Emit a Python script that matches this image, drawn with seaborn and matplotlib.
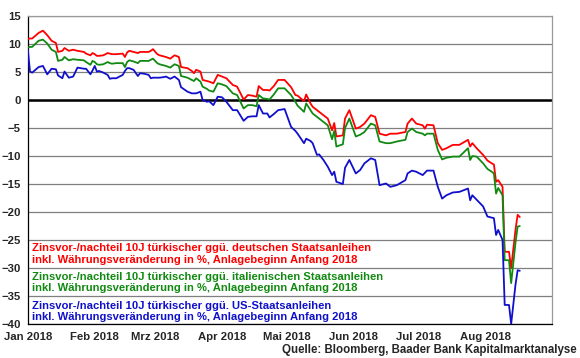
import seaborn as sns
import pandas as pd
import matplotlib.pyplot as plt

dates = [
    "2018-01-01", "2018-01-02", "2018-01-03", "2018-01-06", "2018-01-08", "2018-01-10",
    "2018-01-12", "2018-01-14", "2018-01-15", "2018-01-17", "2018-01-18", "2018-01-20",
    "2018-01-22", "2018-01-24", "2018-01-27", "2018-01-28", "2018-01-30", "2018-01-31",
    "2018-02-01", "2018-02-02", "2018-02-03", "2018-02-05", "2018-02-07", "2018-02-08",
    "2018-02-09", "2018-02-11", "2018-02-14", "2018-02-15", "2018-02-16", "2018-02-17",
    "2018-02-19", "2018-02-21", "2018-02-22", "2018-02-24", "2018-02-26", "2018-02-27",
    "2018-02-28", "2018-03-02", "2018-03-03", "2018-03-05", "2018-03-06", "2018-03-08",
    "2018-03-10", "2018-03-12", "2018-03-13", "2018-03-16", "2018-03-18", "2018-03-19",
    "2018-03-20", "2018-03-22", "2018-03-23", "2018-03-25", "2018-03-26", "2018-03-28",
    "2018-03-30", "2018-04-01", "2018-04-03", "2018-04-06", "2018-04-08", "2018-04-11",
    "2018-04-13", "2018-04-15", "2018-04-17", "2018-04-18", "2018-04-20", "2018-04-22",
    "2018-04-23", "2018-04-25", "2018-04-27", "2018-04-30", "2018-05-03", "2018-05-05",
    "2018-05-06", "2018-05-09", "2018-05-10", "2018-05-12", "2018-05-13", "2018-05-15",
    "2018-05-16", "2018-05-18", "2018-05-20", "2018-05-22", "2018-05-23", "2018-05-24",
    "2018-05-27", "2018-05-28", "2018-05-30", "2018-06-02", "2018-06-04", "2018-06-06",
    "2018-06-09", "2018-06-11", "2018-06-13", "2018-06-16", "2018-06-18", "2018-06-21",
    "2018-06-25", "2018-06-26", "2018-06-28", "2018-06-30", "2018-07-03", "2018-07-04",
    "2018-07-05", "2018-07-08", "2018-07-10", "2018-07-12", "2018-07-14", "2018-07-17",
    "2018-07-20", "2018-07-24", "2018-07-25", "2018-07-26", "2018-07-28", "2018-07-31",
    "2018-08-02", "2018-08-04", "2018-08-05", "2018-08-06", "2018-08-07", "2018-08-09",
    "2018-08-10", "2018-08-12", "2018-08-13", "2018-08-15", "2018-08-16", "2018-08-17",
]

# vs. German Bunds
de = [
    10.9, 11.0, 11.0, 12.0, 12.4, 11.6, 10.6, 10.2, 8.6, 8.8, 9.3, 8.8,
    9.0, 8.8, 8.6, 8.3, 8.0, 8.4, 8.2, 7.9, 7.9, 8.0, 8.4, 8.3,
    8.2, 8.2, 8.3, 7.7, 8.5, 8.8, 8.6, 8.4, 8.6, 8.6, 8.6, 8.8,
    9.1, 8.2, 8.0, 7.8, 7.7, 7.4, 8.0, 7.7, 5.9, 5.7, 5.2, 4.8,
    5.4, 5.1, 3.6, 3.4, 3.3, 3.0, 4.5, 4.2, 3.9, 2.7, 2.4, 0.1,
    0.9, 0.8, 0.6, 2.5, 1.8, 1.8, 1.7, 2.5, 3.6, 3.6, 2.3, 0.9,
    0.8, -0.2, 1.0, -0.6, -1.2, -1.8, -2.1, -2.7, -3.3, -5.4, -4.1, -6.5,
    -6.3, -3.3, -1.8, -5.1, -4.8, -4.2, -2.7, -3.0, -6.0, -6.3, -6.0, -6.0,
    -5.7, -4.2, -3.3, -4.2, -4.5, -5.1, -4.4, -4.5, -7.7, -8.9, -8.6, -8.0,
    -8.0, -7.1, -8.3, -7.7, -8.6, -9.8, -10.8, -11.3, -11.5, -14.6, -14.3, -15.5,
    -27.1, -27.1, -30.0, -23.2, -20.5, -20.9,
]

# vs. Italian BTPs
it = [
    9.4, 9.5, 9.5, 10.6, 10.8, 10.1, 9.0, 8.6, 7.0, 7.2, 7.7, 7.1,
    7.3, 7.2, 7.1, 6.8, 6.3, 7.0, 6.8, 6.4, 6.3, 6.4, 6.8, 6.6,
    6.5, 6.6, 6.6, 5.9, 6.8, 7.1, 6.9, 6.6, 7.0, 7.0, 7.0, 7.2,
    7.4, 6.6, 6.4, 6.2, 6.1, 5.8, 6.4, 6.1, 4.3, 4.0, 3.6, 3.4,
    3.9, 3.3, 2.4, 2.0, 1.7, 1.5, 3.0, 2.8, 2.5, 1.2, 0.9, -1.5,
    -0.9, -0.9, -1.1, 0.9, 0.3, 0.2, 0.1, 1.0, 2.1, 2.1, 0.9, -0.3,
    -1.0, -2.1, -0.6, -1.8, -2.4, -3.0, -3.3, -3.9, -4.5, -7.0, -5.5, -8.3,
    -7.9, -5.0, -3.3, -6.5, -6.2, -5.7, -4.2, -4.5, -7.4, -7.7, -7.7, -7.4,
    -7.1, -5.7, -5.1, -5.7, -6.0, -6.3, -6.0, -6.0, -8.9, -10.6, -10.3, -10.1,
    -10.1, -8.6, -10.7, -10.0, -10.1, -11.3, -12.3, -12.8, -13.1, -16.7, -15.7, -17.0,
    -28.6, -28.6, -32.7, -25.5, -22.6, -22.5,
]

# vs. US Treasuries
us = [
    9.0, 5.1, 4.9, 5.9, 6.1, 4.6, 5.6, 5.5, 4.4, 3.9, 5.1, 4.0,
    4.2, 5.8, 5.6, 5.6, 4.6, 5.3, 6.1, 5.1, 5.2, 4.9, 4.5, 3.8,
    3.9, 3.9, 4.5, 5.2, 5.7, 5.7, 5.4, 4.3, 4.8, 4.7, 4.5, 3.9,
    4.0, 4.0, 4.0, 4.1, 4.2, 3.8, 4.2, 3.6, 2.3, 1.5, 1.2, 1.2,
    1.2, 1.5, 0.0, -0.3, -0.2, -0.9, 0.6, 0.5, -0.3, -1.8, -1.8, -3.7,
    -3.0, -2.9, -2.9, -0.9, -2.4, -2.4, -3.1, -2.5, -1.8, -1.6, -4.8, -5.5,
    -6.0, -7.7, -6.9, -7.3, -7.7, -9.8, -9.7, -10.7, -11.9, -13.4, -12.8, -14.6,
    -15.0, -12.1, -10.7, -13.1, -12.5, -11.3, -10.4, -10.7, -15.2, -14.9, -15.5, -15.2,
    -14.3, -13.1, -12.6, -12.8, -13.4, -13.0, -12.6, -12.6, -15.5, -17.6, -17.0, -16.5,
    -16.4, -15.8, -17.9, -17.0, -17.8, -19.0, -20.8, -21.0, -21.1, -24.1, -23.2, -25.0,
    -36.6, -36.6, -40.0, -33.0, -30.4, -30.5,
]

labels = [
    "Zinsvor-/nachteil 10J türkischer ggü. deutschen Staatsanleihen\ninkl. Währungsveränderung in %, Anlagebeginn Anfang 2018",
    "Zinsvor-/nachteil 10J türkischer ggü. italienischen Staatsanleihen\ninkl. Währungsveränderung in %, Anlagebeginn Anfang 2018",
    "Zinsvor-/nachteil 10J türkischer ggü. US-Staatsanleihen\ninkl. Währungsveränderung in %, Anlagebeginn Anfang 2018",
]
colors = ["#ff0000", "#118a11", "#1010cc"]

month_ticks = ["2018-01-01", "2018-02-01", "2018-03-01", "2018-04-01", "2018-05-01",
               "2018-06-01", "2018-07-01", "2018-08-01", "2018-09-01"]
month_labels = ["Jan 2018", "Feb 2018", "Mrz 2018", "Apr 2018", "Mai 2018",
                "Jun 2018", "Jul 2018", "Aug 2018", ""]

df = pd.DataFrame({"datum": pd.to_datetime(dates), "DE": de, "IT": it, "US": us})
long = df.melt(id_vars="datum", var_name="serie", value_name="wert")

sns.set_style("white")
plt.rcParams["font.family"] = ["Liberation Sans", "DejaVu Sans"]
plt.rcParams["font.weight"] = "bold"

fig = plt.figure(figsize=(5.8, 3.58), dpi=100)
ax = fig.add_axes([0.048, 0.095, 0.904, 0.86])

sns.lineplot(data=long, x="datum", y="wert", hue="serie",
             palette=dict(zip(["DE", "IT", "US"], colors)),
             linewidth=1.3, legend=False, ax=ax, zorder=3)

ax.set_ylim(-40, 15)
ax.set_yticks(range(-40, 16, 5))
ax.set_xlim(pd.Timestamp("2018-01-01"), pd.Timestamp("2018-09-01"))
ax.set_xticks(pd.to_datetime(month_ticks))
ax.set_xticklabels(month_labels)
ax.set_xlabel("")
ax.set_ylabel("")

ax.grid(axis="y", color="#7f7f7f", linewidth=0.9)
ax.axhline(0, color="black", linewidth=1.8, zorder=2)
for side in ["top", "right"]:
    ax.spines[side].set_color("#9a9a9a")
    ax.spines[side].set_linewidth(0.9)
for side in ["left", "bottom"]:
    ax.spines[side].set_color("black")
    ax.spines[side].set_linewidth(0.9)
ax.tick_params(axis="both", labelsize=8.2, length=3, width=0.8, color="black", pad=2)
ax.tick_params(axis="x", pad=3)
for lab in ax.get_xticklabels() + ax.get_yticklabels():
    lab.set_fontweight("bold")

# legend-like text blocks, one per series
ys = [-27.5, -32.6, -37.7]
for lab, col, y in zip(labels, colors, ys):
    ax.text(pd.Timestamp("2018-01-03"), y, lab, color=col, fontsize=8.1,
            fontweight="bold", va="center", ha="left", linespacing=1.15, zorder=4)

fig.text(0.995, 0.006, "Quelle: Bloomberg, Baader Bank Kapitalmarktanalyse",
         ha="right", va="bottom", fontsize=8.3, fontweight="bold")

fig.savefig("out.png", dpi=100)
